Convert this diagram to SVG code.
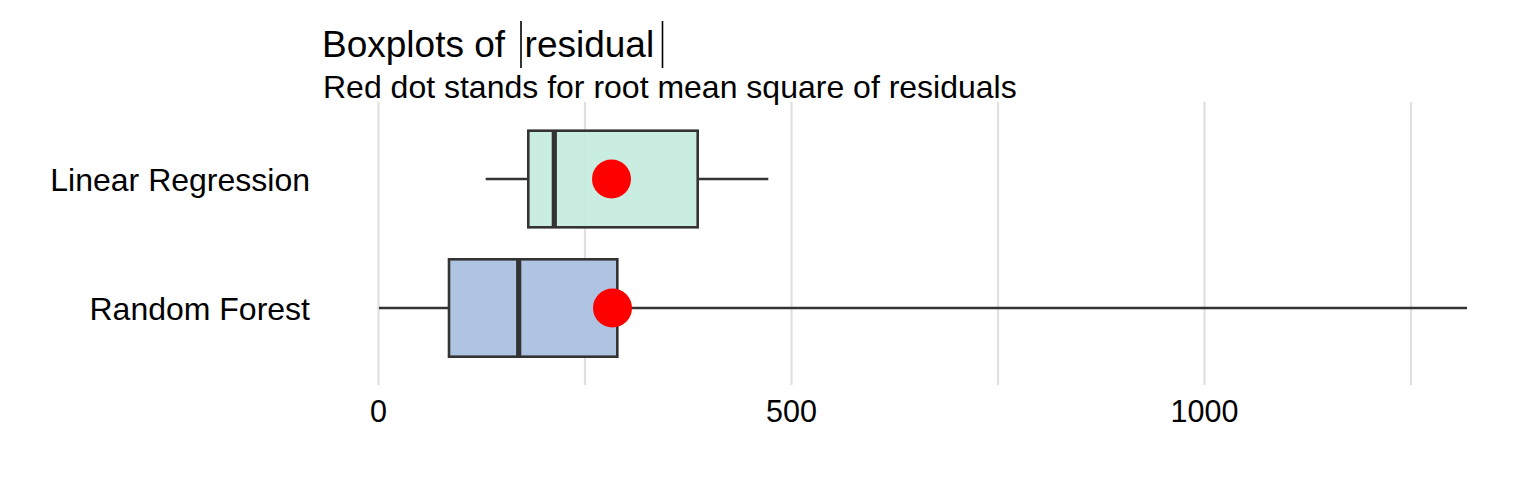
<svg xmlns="http://www.w3.org/2000/svg" width="1536" height="480" viewBox="0 0 1536 480">
<style>
text{font-family:"Liberation Sans",Arial,sans-serif;fill:#000}
.grid{stroke:#e0e0e0;stroke-width:2.2}
.box{stroke:#333;stroke-width:2.6}
.wh{stroke:#333;stroke-width:2.6}
.med{stroke:#333;stroke-width:5.2}
.dot{fill:#ff0000}
.tick{font-size:30.5px;text-anchor:middle}
.lab{font-size:32px;text-anchor:end}
</style>
<rect width="1536" height="480" fill="#fff"/>
<g id="grid">
<line class="grid" x1="378.5" y1="102" x2="378.5" y2="385"/>
<line class="grid" x1="585" y1="102" x2="585" y2="385"/>
<line class="grid" x1="791.5" y1="102" x2="791.5" y2="385"/>
<line class="grid" x1="998" y1="102" x2="998" y2="385"/>
<line class="grid" x1="1204.5" y1="102" x2="1204.5" y2="385"/>
<line class="grid" x1="1411" y1="102" x2="1411" y2="385"/>
</g>
<g id="title">
<text x="322" y="57" font-size="37">Boxplots of</text>
<line x1="521" y1="21" x2="521" y2="68" stroke="#000" stroke-width="1.6"/>
<text x="524.6" y="57" font-size="37">residual</text>
<line x1="662.5" y1="21" x2="662.5" y2="68" stroke="#000" stroke-width="1.6"/>
<text x="323" y="98" font-size="32">Red dot stands for root mean square of residuals</text>
</g>
<g id="connectors">
<line class="wh" x1="485.7" y1="179" x2="528.3" y2="179"/>
<line class="wh" x1="697.7" y1="179" x2="768.3" y2="179"/>
<line class="wh" x1="379" y1="308" x2="449" y2="308"/>
<line class="wh" x1="617.3" y1="308" x2="1467" y2="308"/>
</g>
<g id="linear-regression">
<rect class="box" x="528.3" y="130.7" width="169.4" height="96.6" fill="#c6ecde" fill-opacity="0.92"/>
<line class="med" x1="554.3" y1="130.7" x2="554.3" y2="227.3"/>
<circle class="dot" cx="611.5" cy="179" r="19.5"/>
</g>
<g id="random-forest">
<rect class="box" x="449" y="259.3" width="168.3" height="97.4" fill="#aabfe0" fill-opacity="0.94"/>
<line class="med" x1="518.7" y1="259.3" x2="518.7" y2="356.7"/>
<circle class="dot" cx="612.5" cy="308" r="19.5"/>
</g>
<g id="axis-y">
<text class="lab" x="310" y="190.5">Linear Regression</text>
<text class="lab" x="310" y="319.5">Random Forest</text>
</g>
<g id="axis-x">
<text class="tick" x="378.5" y="421.5">0</text>
<text class="tick" x="791.5" y="421.5">500</text>
<text class="tick" x="1204.5" y="421.5">1000</text>
</g>
</svg>
